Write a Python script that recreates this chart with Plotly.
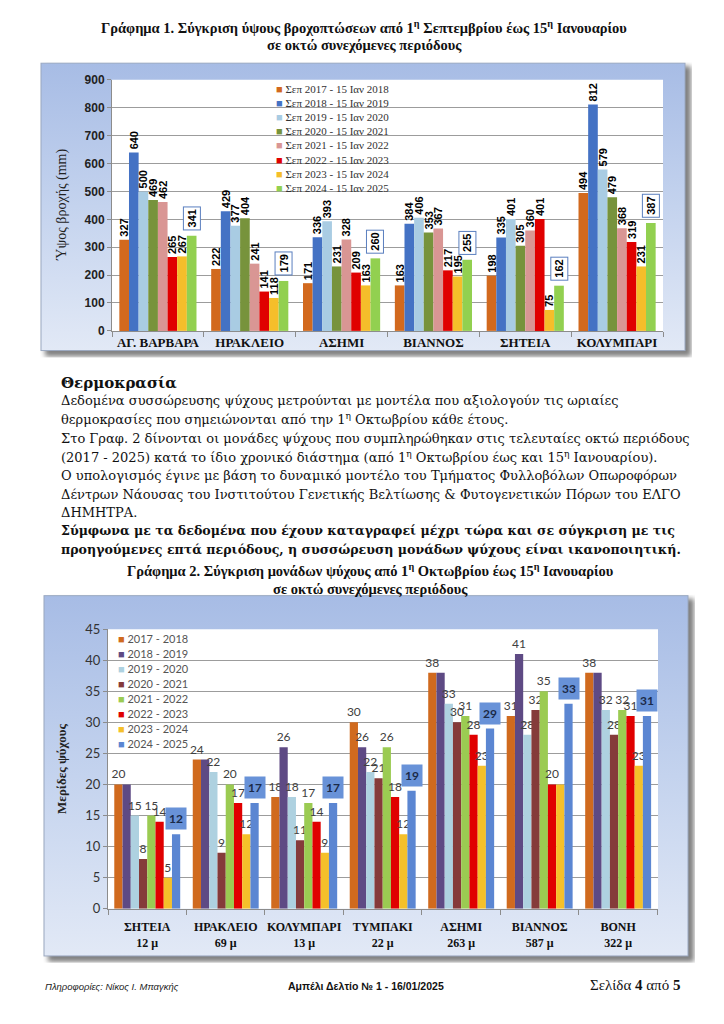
import base64
import plotly.graph_objects as go

W, H = 724, 1024
SERIF = "Liberation Serif"
BODY = "DejaVu Serif"
SANS = "Liberation Sans"

# ---------------- Chart 1 data (rainfall, mm) ----------------
rain_stations = ["ΑΓ. ΒΑΡΒΑΡΑ", "ΗΡΑΚΛΕΙΟ", "ΑΣΗΜΙ", "ΒΙΑΝΝΟΣ", "ΣΗΤΕΙΑ", "ΚΟΛΥΜΠΑΡΙ"]
rain_periods = ["Σεπ 2017 - 15 Ιαν 2018", "Σεπ 2018 - 15 Ιαν 2019", "Σεπ 2019 - 15 Ιαν 2020",
                "Σεπ 2020 - 15 Ιαν 2021", "Σεπ 2021 - 15 Ιαν 2022", "Σεπ 2022 - 15 Ιαν 2023",
                "Σεπ 2023 - 15 Ιαν 2024", "Σεπ 2024 - 15 Ιαν 2025"]
rain_2017_18 = [327, 222, 171, 163, 198, 494]
rain_2018_19 = [640, 429, 336, 384, 335, 812]
rain_2019_20 = [500, 377, 393, 406, 401, 579]
rain_2020_21 = [469, 404, 231, 353, 305, 479]
rain_2021_22 = [462, 241, 328, 367, 360, 368]
rain_2022_23 = [265, 141, 209, 217, 401, 319]
rain_2023_24 = [267, 118, 163, 195, 75, 231]
rain_2024_25 = [341, 179, 260, 255, 162, 387]
rain_ticks = [0, 100, 200, 300, 400, 500, 600, 700, 800, 900]

# ---------------- Chart 2 data (chill portions) ----------------
chill_stations = ["ΣΗΤΕΙΑ", "ΗΡΑΚΛΕΙΟ", "ΚΟΛΥΜΠΑΡΙ", "ΤΥΜΠΑΚΙ", "ΑΣΗΜΙ", "ΒΙΑΝΝΟΣ", "ΒΟΝΗ"]
chill_altitudes = ["12 μ", "69 μ", "13 μ", "22 μ", "263 μ", "587 μ", "322 μ"]
chill_periods = ["2017 - 2018", "2018 - 2019", "2019 - 2020", "2020 - 2021",
                 "2021 - 2022", "2022 - 2023", "2023 - 2024", "2024 - 2025"]
chill_2017_18 = [20, 24, 18, 30, 38, 31, 38]
chill_2018_19 = [20, 24, 26, 26, 38, 41, 38]
chill_2019_20 = [15, 22, 18, 22, 33, 28, 32]
chill_2020_21 = [8, 9, 11, 21, 30, 32, 28]
chill_2021_22 = [15, 20, 17, 26, 31, 35, 32]
chill_2022_23 = [14, 17, 14, 18, 28, 20, 31]
chill_2023_24 = [5, 12, 9, 12, 23, 20, 23]
chill_2024_25 = [12, 17, 17, 19, 29, 33, 31]
chill_ticks = [0, 5, 10, 15, 20, 25, 30, 35, 40, 45]

rain_series = [rain_2017_18, rain_2018_19, rain_2019_20, rain_2020_21,
               rain_2021_22, rain_2022_23, rain_2023_24, rain_2024_25]
chill_series = [chill_2017_18, chill_2018_19, chill_2019_20, chill_2020_21,
                chill_2021_22, chill_2022_23, chill_2023_24, chill_2024_25]

rain_colors = ["#D2691E", "#4472C4", "#A9CCE3", "#77933C", "#D99694", "#E00000", "#F5BE2A", "#92D050"]
chill_colors = ["#D06A1E", "#5E4A84", "#AED1E0", "#853B3A", "#9BCB52", "#E00000", "#F5C02A", "#5B86D2"]

BARGAP = 0.16


def px(x):
    return x / W


def py(y):
    return 1 - y / H


def bar_offset(i, n):
    grp = 1 - BARGAP
    return -grp / 2 + (i + 0.5) * grp / n


def frame_uri(w, h):
    svg = (
        f'<svg xmlns="http://www.w3.org/2000/svg" width="{w}" height="{h}" viewBox="0 0 {w} {h}" preserveAspectRatio="none">'
        '<defs><linearGradient id="g" x1="0" y1="0" x2="0" y2="1">'
        '<stop offset="0" stop-color="#A7BCE5"/><stop offset="0.5" stop-color="#C4D3EE"/>'
        '<stop offset="1" stop-color="#E2E9F6"/></linearGradient>'
        '<filter id="s" x="-5%" y="-5%" width="110%" height="110%"><feGaussianBlur stdDeviation="2.5"/></filter></defs>'
        f'<rect x="5" y="4" width="{w-6}" height="{h-5}" fill="#808080" filter="url(#s)"/>'
        f'<rect x="1" y="1" width="{w-8}" height="{h-8}" fill="url(#g)" stroke="#9AA8C0" stroke-width="1"/>'
        '</svg>'
    )
    return "data:image/svg+xml;base64," + base64.b64encode(svg.encode("utf-8")).decode()


fig = go.Figure()

# ---------------- Chart 1 bars ----------------
n1 = len(rain_series)
for i, (name, vals, col) in enumerate(zip(rain_periods, rain_series, rain_colors)):
    last = i == n1 - 1
    fig.add_trace(go.Bar(
        x=rain_stations, y=vals, name=name, marker=dict(color=col, line=dict(width=0)),
        text=None if last else [str(v) for v in vals],
        textposition="outside", textangle=-90, constraintext="none", cliponaxis=False,
        textfont=dict(family=SANS, size=11, color="#000000", weight="bold"),
        xaxis="x", yaxis="y", showlegend=False, hoverinfo="skip",
    ))

# ---------------- Chart 2 bars ----------------
chill_labels = [f"{s}<br>{a}" for s, a in zip(chill_stations, chill_altitudes)]
n2 = len(chill_series)
for i, (name, vals, col) in enumerate(zip(chill_periods, chill_series, chill_colors)):
    last = i == n2 - 1
    if last:
        txt = None
    else:
        prev = chill_series[i - 1] if i > 0 else [None] * len(vals)
        txt = ["" if p == v else str(v) for v, p in zip(vals, prev)]
    fig.add_trace(go.Bar(
        x=chill_labels, y=vals, name=name, marker=dict(color=col, line=dict(width=0)),
        text=txt, textposition="outside", constraintext="none", cliponaxis=False,
        textfont=dict(family="Lato", size=12, color="#404040"),
        xaxis="x2", yaxis="y2", showlegend=False, hoverinfo="skip",
    ))

ann = []

# boxed labels for last series, chart 1
off = bar_offset(n1 - 1, n1)
for j, v in enumerate(rain_2024_25):
    ann.append(dict(x=j + off, y=v, xref="x", yref="y", text=f"<b>{v}</b>", textangle=-90,
                    showarrow=False, yanchor="bottom", yshift=5,
                    font=dict(family=SANS, size=11, color="#000000"),
                    bordercolor="#5A7FBF", borderwidth=1, borderpad=2, bgcolor="#FFFFFF"))

# boxed labels for last series, chart 2
off = bar_offset(n2 - 1, n2)
for j, v in enumerate(chill_2024_25):
    ann.append(dict(x=j + off, y=v, xref="x2", yref="y2", text=f"<b>{v}</b>",
                    showarrow=False, yanchor="bottom", yshift=4,
                    font=dict(family="Lato", size=12, color="#1B2A48"),
                    borderpad=3, bgcolor="#6892D8"))


def paper_text(x, y, text, font, xanchor="center", **kw):
    d = dict(x=px(x), y=py(y), xref="paper", yref="paper", text=text, showarrow=False,
             xanchor=xanchor, yanchor="middle", font=font)
    d.update(kw)
    ann.append(d)


# legends (drawn as text items)
for i, (name, col) in enumerate(zip(rain_periods, rain_colors)):
    paper_text(274, 82 + i * 14.4, f'<span style="color:{col}">■</span> {name}',
               dict(family=SERIF, size=11, color="#333333"), xanchor="left")
for i, (name, col) in enumerate(zip(chill_periods, chill_colors)):
    paper_text(116, 641 + i * 15.2, f'<span style="color:{col}">■</span> {name}',
               dict(family="Lato", size=11, color="#555555"), xanchor="left")

# axis titles
paper_text(62, 200, "Ύψος βροχής (mm)", dict(family=SERIF, size=14, color="#222222"), textangle=-90)
paper_text(62, 773, "<b>Μερίδες ψύχους</b>", dict(family=SERIF, size=13, color="#222222"), textangle=-90)

# chart titles
tfont = dict(family=SERIF, size=14.5, color="#111111")
paper_text(364, 19, "<b>Γράφημα 1. Σύγκριση ύψους βροχοπτώσεων από 1<sup>η</sup> Σεπτεμβρίου έως 15<sup>η</sup> Ιανουαρίου</b>", tfont)
paper_text(364, 38, "<b>σε οκτώ συνεχόμενες περιόδους</b>", tfont)
paper_text(370, 571, "<b>Γράφημα 2. Σύγκριση μονάδων ψύχους από 1<sup>η</sup> Οκτωβρίου έως 15<sup>η</sup> Ιανουαρίου</b>", tfont)
paper_text(370, 590, "<b>σε οκτώ συνεχόμενες περιόδους</b>", tfont)

# body text
body = [
    ("<b>Θερμοκρασία</b>", 381, 15),
    ("Δεδομένα συσσώρευσης ψύχους μετρούνται με μοντέλα που αξιολογούν τις ωριαίες", 399, 13),
    ("θερμοκρασίες που σημειώνονται από την 1<sup>η</sup> Οκτωβρίου κάθε έτους.", 418, 13),
    ("Στο Γραφ. 2 δίνονται οι μονάδες ψύχους που συμπληρώθηκαν στις τελευταίες οκτώ περιόδους", 437, 13),
    ("(2017 - 2025) κατά το ίδιο χρονικό διάστημα (από 1<sup>η</sup> Οκτωβρίου έως και 15<sup>η</sup> Ιανουαρίου).", 456, 13),
    ("Ο υπολογισμός έγινε με βάση το δυναμικό μοντέλο του Τμήματος Φυλλοβόλων Οπωροφόρων", 475, 13),
    ("Δέντρων Νάουσας του Ινστιτούτου Γενετικής Βελτίωσης &amp; Φυτογενετικών Πόρων του ΕΛΓΟ", 494, 13),
    ("ΔΗΜΗΤΡΑ.", 513, 13),
    ("<b>Σύμφωνα με τα δεδομένα που έχουν καταγραφεί μέχρι τώρα και σε σύγκριση με τις</b>", 531, 12.6),
    ("<b>προηγούμενες επτά περιόδους, η συσσώρευση μονάδων ψύχους είναι ικανοποιητική.</b>", 550, 12.6),
]
for t, yy, fs in body:
    paper_text(59, yy, t, dict(family=BODY, size=fs, color="#111111"), xanchor="left")

# footer
paper_text(43, 994, "<i>Πληροφορίες: Νίκος Ι. Μπαγκής</i>", dict(family=SANS, size=9.5, color="#222222"), xanchor="left")
paper_text(366, 994, "<b>Αμπέλι Δελτίο № 1 - 16/01/2025</b>", dict(family=SANS, size=10.5, color="#111111"))
paper_text(682, 993, "Σελίδα <b>4</b> από <b>5</b>", dict(family=SERIF, size=15, color="#111111"), xanchor="right")

images = [
    dict(source=frame_uri(652, 300), xref="paper", yref="paper", x=px(40), y=py(55),
         sizex=652 / W, sizey=300 / H, xanchor="left", yanchor="top", sizing="stretch", layer="below"),
    dict(source=frame_uri(652, 374), xref="paper", yref="paper", x=px(43), y=py(596),
         sizex=652 / W, sizey=374 / H, xanchor="left", yanchor="top", sizing="stretch", layer="below"),
]

shapes = [
    dict(type="rect", xref="x domain", yref="y domain", x0=0, x1=1, y0=0, y1=1,
         fillcolor="#FFFFFF", line=dict(width=0), layer="below"),
    dict(type="rect", xref="x2 domain", yref="y2 domain", x0=0, x1=1, y0=0, y1=1,
         fillcolor="#FFFFFF", line=dict(width=0), layer="below"),
]

fig.update_layout(
    width=W, height=H, margin=dict(l=0, r=0, t=0, b=0),
    paper_bgcolor="#FFFFFF", plot_bgcolor="#FFFFFF",
    barmode="group", bargap=BARGAP, bargroupgap=0,
    showlegend=False, annotations=ann, images=images, shapes=shapes,
    xaxis=dict(domain=[px(112), px(663)], anchor="y", type="category",
               showline=True, linecolor="#8C8C8C", ticks="outside", tickson="boundaries",
               ticklen=5, tickcolor="#8C8C8C", showgrid=False, tickangle=0,
               tickfont=dict(family=SERIF, size=13, color="#111111", weight="bold")),
    yaxis=dict(domain=[py(328), py(73)], anchor="x", range=[0, 900], tickvals=rain_ticks,
               showline=True, linecolor="#8C8C8C", ticks="outside", ticklen=4, tickcolor="#8C8C8C",
               showgrid=True, gridcolor="#9C9C9C", gridwidth=1, zeroline=False,
               tickfont=dict(family=SANS, size=12, color="#222222", weight="bold")),
    xaxis2=dict(domain=[px(108), px(658)], anchor="y2", type="category",
                showline=True, linecolor="#8C8C8C", ticks="outside", tickson="boundaries",
                ticklen=5, tickcolor="#8C8C8C", showgrid=False, tickangle=0, ticklabelstandoff=7,
                tickfont=dict(family=SERIF, size=12, color="#111111", weight="bold")),
    yaxis2=dict(domain=[py(915), py(631)], anchor="x2", range=[0, 45], tickvals=chill_ticks,
                showline=True, linecolor="#8C8C8C", ticks="outside", ticklen=4, tickcolor="#8C8C8C",
                showgrid=True, gridcolor="#9C9C9C", gridwidth=1, zeroline=False,
                tickfont=dict(family="Lato", size=13, color="#333333")),
)

fig.write_html("out.html", config={"displayModeBar": False},
               post_script="document.body.style.margin='0';document.body.style.overflow='hidden';")
